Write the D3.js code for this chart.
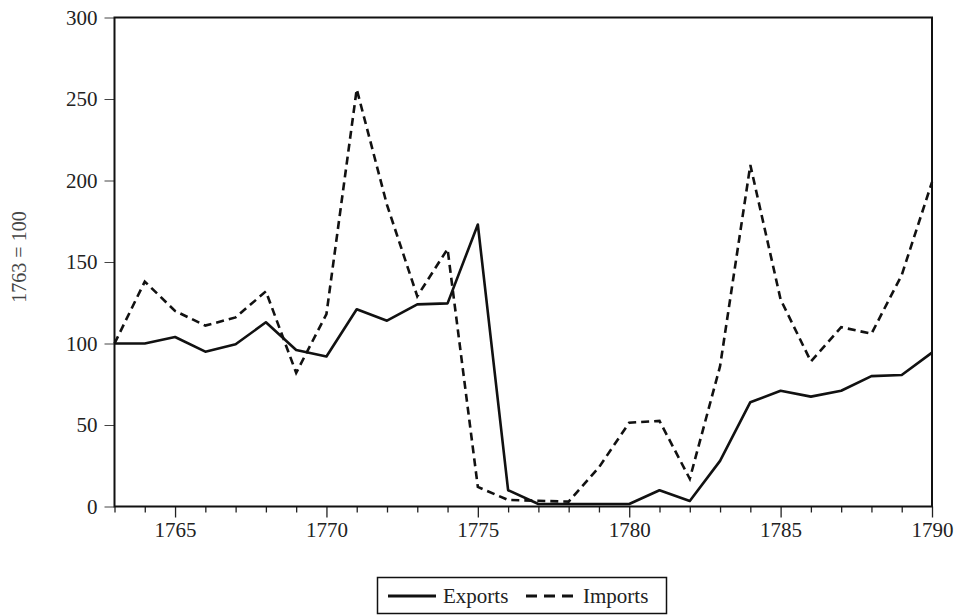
<!DOCTYPE html>
<html lang="en">
<head>
<meta charset="utf-8">
<title>Exports and imports, 1763 = 100</title>
<script src="https://d3js.org/d3.v7.min.js"></script>
<style>
  body { margin: 0; background: #fff; }
  svg text { font-family: "Liberation Serif", "Times New Roman", Times, "DejaVu Serif", "Noto Serif", serif; }
  .axis text { font-size: 21px; fill: #222; }
  .ylabel { font-size: 20px; fill: #444; }
  .legend text { font-size: 21px; fill: #222; }
</style>
</head>
<body>
<div id="chart"></div>
<script>

// data (index, 1763 = 100)
var years = d3.range(1763, 1791);
var exportsIdx = [100, 100, 104, 95, 99.5, 113, 96, 92, 121, 114, 124, 124.6, 173, 10,
                  1.5, 1.5, 1.5, 1.5, 10, 3.4, 28, 64, 71, 67.4, 71, 80, 80.7, 94.4];
var importsIdx = [100, 138, 120, 111, 116, 132, 82, 118, 256, 185, 129, 158, 12, 4,
                  3.5, 3, 24, 51.4, 52.5, 17, 86, 209.5, 127, 89, 110, 106, 142, 199];
var yTicks = [0, 50, 100, 150, 200, 250, 300];
var xLabels = [1765, 1770, 1775, 1780, 1785, 1790];

var W = 959, H = 615;
var margin = {top: 17.5, right: 27, bottom: 108.5, left: 114.5};
var width = W - margin.left - margin.right,
    height = H - margin.top - margin.bottom;

var svg = d3.select("#chart")
  .append("svg")
    .attr("width", W)
    .attr("height", H);

var g = svg.append("g")
    .attr("transform", "translate(" + margin.left + "," + margin.top + ")");

var x = d3.scaleLinear()
  .domain([1763, 1790])
  .range([0, width]);

var y = d3.scaleLinear()
  .domain([0, 300])
  .range([height, 0]);

// x axis: a tick every year, longer ones on the labelled years
var xAxis = g.append("g")
  .attr("class", "axis")
  .attr("transform", "translate(0," + height + ")")
  .call(d3.axisBottom(x)
    .tickValues(years)
    .tickSize(6)
    .tickPadding(14)
    .tickFormat(function(d) { return xLabels.indexOf(d) >= 0 ? d : ""; }));
xAxis.attr("font-family", null);
xAxis.select(".domain").remove();
xAxis.selectAll(".tick line")
  .attr("stroke", "#222")
  .attr("stroke-width", 1.3)
  .attr("y2", function(d) { return xLabels.indexOf(d) >= 0 ? 11 : 6; });
xAxis.selectAll(".tick text").attr("dy", "0.71em").attr("y", 16);

// y axis
var yAxis = g.append("g")
  .attr("class", "axis")
  .call(d3.axisLeft(y)
    .tickValues(yTicks)
    .tickSize(10)
    .tickPadding(7));
yAxis.attr("font-family", null);
yAxis.select(".domain").remove();
yAxis.selectAll(".tick line").attr("stroke", "#444").attr("stroke-width", 1);

// frame round the plot
g.append("rect")
  .attr("x", 0)
  .attr("y", 0)
  .attr("width", width)
  .attr("height", height)
  .attr("fill", "none")
  .attr("stroke", "#111")
  .attr("stroke-width", 2);

var line = d3.line()
  .x(function(d, i) { return x(years[i]); })
  .y(function(d) { return y(d); });

g.append("path")
  .datum(importsIdx)
  .attr("d", line)
  .attr("fill", "none")
  .attr("stroke", "#111")
  .attr("stroke-width", 2.6)
  .attr("stroke-dasharray", "8,5");

g.append("path")
  .datum(exportsIdx)
  .attr("d", line)
  .attr("fill", "none")
  .attr("stroke", "#111")
  .attr("stroke-width", 2.6)
  .attr("stroke-linejoin", "round");

// y label
svg.append("text")
  .attr("class", "ylabel")
  .attr("text-anchor", "middle")
  .attr("transform", "translate(26,257) rotate(-90)")
  .text("1763 = 100");

// legend
var legend = svg.append("g").attr("class", "legend");
legend.append("rect")
  .attr("x", 377.5).attr("y", 577.5)
  .attr("width", 289).attr("height", 36)
  .attr("fill", "#fff")
  .attr("stroke", "#111")
  .attr("stroke-width", 1.5);
legend.append("line")
  .attr("x1", 388).attr("x2", 436)
  .attr("y1", 596).attr("y2", 596)
  .attr("stroke", "#111").attr("stroke-width", 3);
legend.append("text")
  .attr("x", 443).attr("y", 603)
  .text("Exports");
legend.append("line")
  .attr("x1", 526).attr("x2", 574)
  .attr("y1", 596).attr("y2", 596)
  .attr("stroke", "#111").attr("stroke-width", 3)
  .attr("stroke-dasharray", "11,7");
legend.append("text")
  .attr("x", 583).attr("y", 603)
  .text("Imports");

</script>
</body>
</html>
